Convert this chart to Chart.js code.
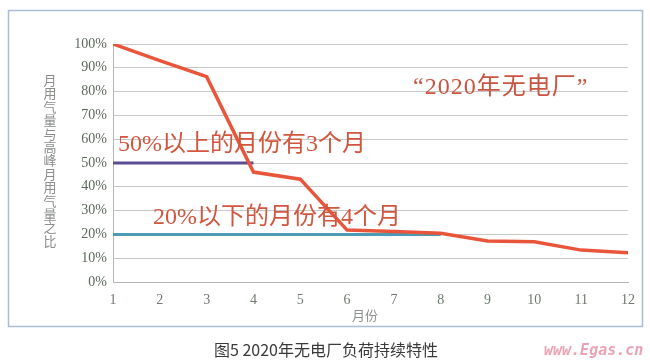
<!DOCTYPE html>
<html lang="zh">
<head>
    <meta charset="UTF-8">
    <title>2020年无电厂负荷持续特性</title>
    <style>
        body {
            margin: 0;
            background: #fff;
        }
        canvas {
            display: block;
        }
    </style>
</head>
<body>
    <canvas id="chart" width="650" height="364"></canvas>
    <script src="https://cdn.jsdelivr.net/npm/chart.js"></script>
    <script>
        // 数据
        const months = [1, 2, 3, 4, 5, 6, 7, 8, 9, 10, 11, 12];
        const loadRatio = [100, 93, 86.3, 46.2, 43.2, 21.8, 21.2, 20.5, 17.2, 16.9, 13.4, 12.3];
        const highMonths = [1, 4];
        const highValues = [50, 50];
        const lowMonths = [1, 8];
        const lowValues = [20, 20];
        const yTicks = [0, 10, 20, 30, 40, 50, 60, 70, 80, 90, 100];

        const yTitle = '月用气量与高峰月用气量之比';
        const serif = '"Liberation Serif", "Noto Sans CJK SC", serif';
        const cjk = '"Noto Sans CJK SC", sans-serif';

        const toPoints = (xs, ys) => xs.map((x, i) => ({ x: x, y: ys[i] }));

        const decor = {
            id: 'decor',
            afterDatasetsDraw(chart) {
                const ctx = chart.ctx;
                ctx.save();
                // 注释文字
                ctx.fillStyle = '#d2553e';
                ctx.textBaseline = 'middle';
                ctx.textAlign = 'left';
                ctx.font = '24px ' + serif;
                ctx.fillText('50%以上的月份有3个月', 118, 145);
                ctx.fillText('20%以下的月份有4个月', 153, 218);
                ctx.fillStyle = '#c9543f';
                ctx.font = '24px ' + serif;
                ctx.letterSpacing = '1px';
                ctx.fillText('“2020年无电厂”', 413, 88);
                ctx.restore();
            },
            afterDraw(chart) {
                const ctx = chart.ctx;
                ctx.save();
                // 外框
                ctx.strokeStyle = '#aabdd6';
                ctx.lineWidth = 1.5;
                ctx.strokeRect(8.5, 10.5, 634, 316);
                ctx.textAlign = 'center';
                ctx.textBaseline = 'middle';
                // 纵轴标题（竖排）
                ctx.fillStyle = '#8a8f8a';
                ctx.font = '13px ' + cjk;
                [...yTitle].forEach((ch, i) => ctx.fillText(ch, 50, 80 + i * 13.4));
                // 横轴标题
                ctx.fillStyle = '#8d918d';
                ctx.fillText('月份', 365, 315);
                // 图名
                ctx.fillStyle = '#3a3a3a';
                ctx.font = '16px ' + cjk;
                ctx.textAlign = 'left';
                ctx.fillText('图5 2020年无电厂负荷持续特性', 214, 350);
                // 水印
                ctx.fillStyle = '#eba3b3';
                ctx.font = 'italic bold 15px "DejaVu Sans Mono", monospace';
                ctx.fillText('www.Egas.cn', 544, 351);
                ctx.restore();
            }
        };

        new Chart(document.getElementById('chart'), {
            type: 'line',
            data: {
                datasets: [
                    {
                        data: toPoints(months, loadRatio),
                        borderColor: '#e9553a',
                        borderWidth: 3.5,
                        pointRadius: 0,
                        tension: 0
                    },
                    {
                        data: toPoints(highMonths, highValues),
                        borderColor: '#5b4d92',
                        borderWidth: 3,
                        pointRadius: 0
                    },
                    {
                        data: toPoints(lowMonths, lowValues),
                        borderColor: '#4b9bb4',
                        borderWidth: 3,
                        pointRadius: 0
                    }
                ]
            },
            options: {
                responsive: false,
                animation: false,
                layout: { padding: { top: 44, right: 22, left: 0, bottom: 0 } },
                plugins: {
                    legend: { display: false },
                    tooltip: { enabled: false }
                },
                scales: {
                    x: {
                        type: 'linear',
                        min: 1,
                        max: 12,
                        afterFit: (s) => { s.height = 82; },
                        afterBuildTicks: (s) => { s.ticks = months.map(v => ({ value: v })); },
                        grid: { display: false },
                        border: { color: '#b5b5b5', width: 1 },
                        ticks: {
                            color: '#6f7a6f',
                            font: { family: serif, size: 14 },
                            padding: 2
                        }
                    },
                    y: {
                        min: 0,
                        max: 100,
                        afterFit: (s) => { s.width = 113; },
                        afterBuildTicks: (s) => { s.ticks = yTicks.map(v => ({ value: v })); },
                        grid: { color: '#c8c8c8', lineWidth: 1, drawTicks: false },
                        border: { color: '#b5b5b5', width: 1 },
                        ticks: {
                            color: '#5b695b',
                            font: { family: serif, size: 14 },
                            padding: 6,
                            callback: (v) => v + '%'
                        }
                    }
                }
            },
            plugins: [decor]
        });
    </script>
</body>
</html>
